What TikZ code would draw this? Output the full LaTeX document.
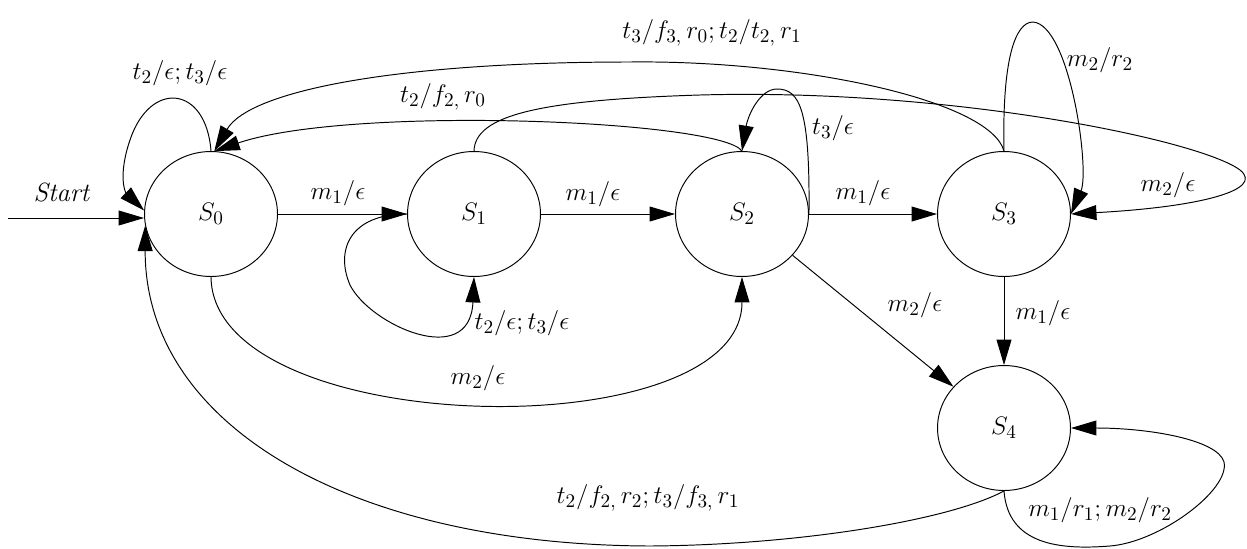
\documentclass[tikz,border=0pt]{standalone}
\usetikzlibrary{arrows.meta,shapes.geometric}
\begin{document}
\begin{tikzpicture}[x=0.02cm,y=-0.02cm,
  st/.style={draw,ellipse,minimum width=2.66cm,minimum height=2.5cm,inner sep=0pt,line width=0.55pt,font=\fontsize{15}{17}\selectfont},
  lbl/.style={inner sep=1pt,font=\fontsize{15}{17}\selectfont},
  arr/.style={line width=0.55pt,-{Triangle[length=14.5pt,width=8.5pt]}},
  ln/.style={line width=0.55pt}]
\useasboundingbox (0,0) rectangle (1247,548);
% states
\node[st] (s0) at (211,214) {$S_0$};
\node[st] (s1) at (474,214) {$S_1$};
\node[st] (s2) at (742,214) {$S_2$};
\node[st] (s3) at (1004,214) {$S_3$};
\node[st] (s4) at (1004,428) {$S_4$};
\coordinate (start) at (8,218);
% straight edges
\draw[arr] (start) -- (s0.west |- start);
\draw[arr] (s0.east) -- (s1.west);
\draw[arr] (s1.east) -- (s2.west);
\draw[arr] (s2.east) -- (s3.west);
\draw[arr] (s3.south) -- (s4.north);
\draw[arr] (s2) -- (s4);
% self loops
\draw[arr] (s0.north) .. controls (206,85) and (150,80) .. (130,140) .. controls (118,175) and (125,192) .. (s0.177);
\draw[arr] (s1.west) .. controls (350,214) and (335,250) .. (350,285) .. controls (370,325) and (470,370) .. (s1.south);
\draw[arr] (s2.east) .. controls (810,110) and (800,89) .. (777,89) .. controls (760,89) and (748,115) .. (s2.north);
\draw[arr] (s3.north) .. controls (1002,60) and (1015,22) .. (1033,22) .. controls (1070,25) and (1090,170) .. (s3.east);
\draw[arr] (s4.south) .. controls (1008,545) and (1060,550) .. (1110,546) .. controls (1160,542) and (1230,490) .. (1224,462) .. controls (1218,440) and (1150,428) .. (s4.east);
% long edges
\draw[arr] (s2.north) .. controls (720,120) and (350,105) .. (s0.87);
\draw[arr] (s3.north) .. controls (990,100) and (800,60) .. (630,62) .. controls (400,62) and (250,90) .. (s0.87);
\draw[arr] (s1.north) .. controls (475,115) and (540,100) .. (700,95) .. controls (950,88) and (1200,140) .. (1240,170) .. controls (1265,190) and (1200,207) .. (s3.east);
\draw[arr] (s0.south) .. controls (213,440) and (742,450) .. (s2.south);
\draw[arr] (s4.south) .. controls (950,520) and (800,545) .. (650,546) .. controls (350,545) and (145,425) .. (s0.190);
% labels
\node[lbl] (l0) at (62,192) {\textit{Start}};
\node[lbl] (l1) at (180,73) {$t_2/\epsilon;t_3/\epsilon$};
\node[lbl] (l2) at (712,33) {$t_3/f_{3,}\,r_0;t_2/t_{2,}\,r_1$};
\node[lbl] (l3) at (443,97) {$t_2/f_{2,}\,r_0$};
\node[lbl] (l4) at (833,128) {$t_3/\epsilon$};
\node[lbl] (l5) at (1100,60) {$m_2/r_2$};
\node[lbl] (l6) at (1168,185) {$m_2/\epsilon$};
\node[lbl] (l7) at (338,193) {$m_1/\epsilon$};
\node[lbl] (l8) at (593,194) {$m_1/\epsilon$};
\node[lbl] (l9) at (863,193) {$m_1/\epsilon$};
\node[lbl] (l10) at (1043,313) {$m_1/\epsilon$};
\node[lbl] (l11) at (915,305) {$m_2/\epsilon$};
\node[lbl] (l12) at (522,323) {$t_2/\epsilon;t_3/\epsilon$};
\node[lbl] (l13) at (478,378) {$m_2/\epsilon$};
\node[lbl] (l14) at (648,498) {$t_2/f_{2,}\,r_2;t_3/f_{3,}\,r_1$};
\node[lbl] (l15) at (1100,510) {$m_1/r_1;m_2/r_2$};
\end{tikzpicture}
\end{document}
